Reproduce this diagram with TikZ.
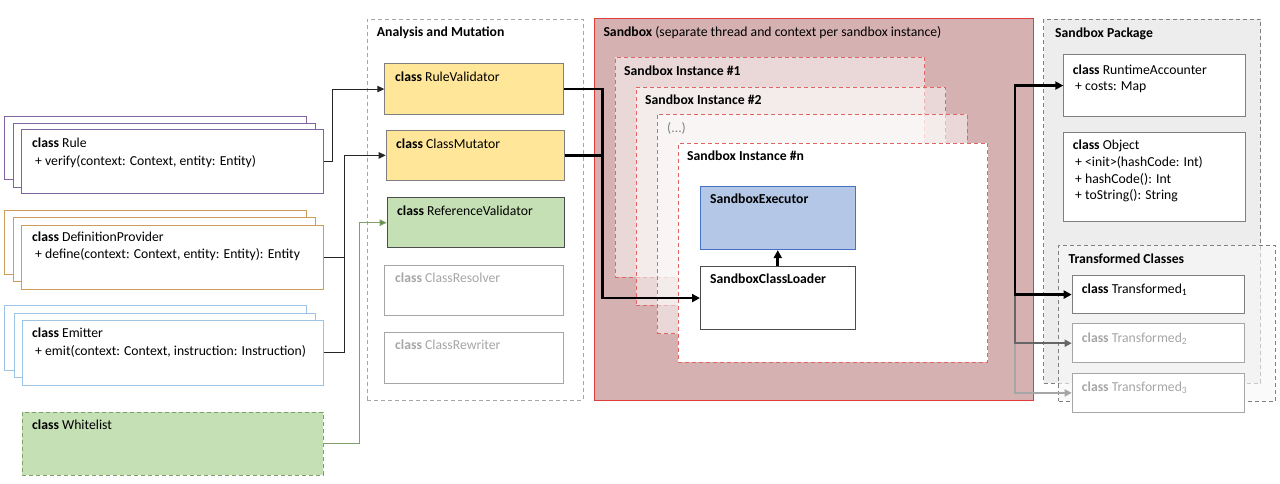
\documentclass[tikz,border=0pt]{standalone}
\usepackage{fontspec}
\setmainfont{Carlito}
\usetikzlibrary{arrows.meta,calc}
\definecolor{cpurple}{HTML}{8064A2}
\definecolor{cgold}{HTML}{CC9E5A}
\definecolor{cblue}{HTML}{9DC3E6}
\definecolor{cgreenfill}{HTML}{C5E0B4}
\definecolor{cgreenline}{HTML}{7FA069}
\definecolor{cgreenarrow}{HTML}{5E8C3E}
\definecolor{cyellow}{HTML}{FFE699}
\definecolor{cgrayline}{HTML}{7F7F7F}
\definecolor{clightgray}{HTML}{A6A6A6}
\definecolor{csandfill}{HTML}{D6B1B1}
\definecolor{csandline}{HTML}{E03C3C}
\definecolor{cinstline}{HTML}{E06666}
\definecolor{cexecfill}{HTML}{B4C7E7}
\definecolor{cexecline}{HTML}{4472C4}
\definecolor{cpkgfill}{HTML}{EDEDED}
\definecolor{ctcfill}{HTML}{F7F7F7}
\definecolor{cdark}{HTML}{262626}
\begin{document}
\begin{tikzpicture}[x=1pt,y=-1pt,
  font=\fontsize{13.7}{17}\selectfont,
  box/.style={draw, fill=white, inner sep=0pt, anchor=north west, line width=0.8pt},
  txt/.style={anchor=base west, inner sep=0pt},
  dashbox/.style={box, dash pattern=on 4pt off 3pt},
  thin conn/.style={draw=cdark, line width=0.9pt},
  thin arrow/.style={thin conn, -{Triangle[length=7pt,width=6.5pt]}},
  thick conn/.style={draw=black, line width=2.8pt},
  thick arrow/.style={thick conn, -{Triangle[length=8pt,width=8pt]}},
]
\useasboundingbox (0,0) rectangle (1280,483);

% ---------- left stacks ----------
\node[box, draw=cpurple, minimum width=302pt, minimum height=63pt] (ruleb) at (4.3,116) {};
\node[box, draw=cpurple, minimum width=302pt, minimum height=64pt] (rulem) at (13,122.7) {};
\node[box, draw=cpurple, minimum width=302pt, minimum height=64pt] (rule) at (21,129) {};
\node[txt] (rulet1) at (32,147) {\textbf{class} Rule};
\node[txt] (rulet2) at (35,165) {+ verify(context: Context, entity: Entity)};

\node[box, draw=cgold, minimum width=302pt, minimum height=64pt] (defb) at (4.3,210) {};
\node[box, draw=cgold, minimum width=302pt, minimum height=64pt] (defm) at (13,217) {};
\node[box, draw=cgold, minimum width=302pt, minimum height=64pt] (def) at (21,224.7) {};
\node[txt] (deft1) at (32,241) {\textbf{class} DefinitionProvider};
\node[txt] (deft2) at (35,258.5) {+ define(context: Context, entity: Entity): Entity};

\node[box, draw=cblue, minimum width=302pt, minimum height=65pt] (emitb) at (4.3,305) {};
\node[box, draw=cblue, minimum width=301pt, minimum height=64pt] (emitm) at (14,313) {};
\node[box, draw=cblue, minimum width=301pt, minimum height=64.7pt] (emit) at (22,320) {};
\node[txt] (emitt1) at (32,337.5) {\textbf{class} Emitter};
\node[txt] (emitt2) at (35,355) {+ emit(context: Context, instruction: Instruction)};

\node[dashbox, draw=cgreenline, fill=cgreenfill, minimum width=301pt, minimum height=63pt] (wl) at (22,412) {};
\node[txt] (wlt) at (32,429.5) {\textbf{class} Whitelist};

% ---------- analysis and mutation ----------
\node[dashbox, draw=clightgray, minimum width=216pt, minimum height=381.3pt] (ana) at (366.7,18.7) {};
\node[txt] (anat) at (376.7,36) {\textbf{Analysis and Mutation}};
\node[box, draw=cgrayline, fill=cyellow, minimum width=179pt, minimum height=50.7pt] (rv) at (384.3,63.3) {};
\node[txt] (rvt) at (395,81) {\textbf{class} RuleValidator};
\node[box, draw=cgrayline, fill=cyellow, minimum width=178.6pt, minimum height=50pt] (cm) at (385.7,130) {};
\node[txt] (cmt) at (396,148) {\textbf{class} ClassMutator};
\node[box, draw=black!70, fill=cgreenfill, minimum width=177.6pt, minimum height=50pt] (refv) at (386.7,197.3) {};
\node[txt] (refvt) at (397,215) {\textbf{class} ReferenceValidator};
\node[box, draw=clightgray, minimum width=179pt, minimum height=50.3pt] (cres) at (384.3,265) {};
\node[txt, text=clightgray] (crest) at (395,282.5) {\textbf{class} ClassResolver};
\node[box, draw=clightgray, minimum width=179pt, minimum height=50.7pt] (crew) at (384.3,332) {};
\node[txt, text=clightgray] (crewt) at (395,349) {\textbf{class} ClassRewriter};

% ---------- sandbox ----------
\node[box, draw=csandline, fill=csandfill, minimum width=439.3pt, minimum height=382pt] (sb) at (594,18) {};
\node[txt] (sbt) at (603.3,36) {\textbf{Sandbox} (separate thread and context per sandbox instance)};
\node[dashbox, draw=cinstline, fill opacity=0.5, minimum width=309.3pt, minimum height=220pt] (i1) at (615,56.7) {};
\node[txt] (i1t) at (624,75) {\textbf{Sandbox Instance \#1}};
\node[dashbox, draw=cinstline, fill opacity=0.5, minimum width=309.3pt, minimum height=218.3pt] (i2) at (636,86.7) {};
\node[txt] (i2t) at (645,104) {\textbf{Sandbox Instance \#2}};
\node[dashbox, draw=cinstline, fill opacity=0.5, minimum width=310pt, minimum height=219.3pt] (i3) at (656.7,114) {};
\node[txt, text=cgrayline] (i3t) at (667,132) {(...)};
\node[dashbox, draw=cinstline, minimum width=309.6pt, minimum height=219.3pt] (in) at (677.7,142.7) {};
\node[txt] (int) at (687,160.5) {\textbf{Sandbox Instance \#n}};
\node[box, draw=cexecline, fill=cexecfill, minimum width=154.7pt, minimum height=63.6pt] (exec) at (700,185.7) {};
\node[txt] (exect) at (710,203.5) {\textbf{SandboxExecutor}};
\node[box, draw=black!70, minimum width=154.7pt, minimum height=62.7pt] (loader) at (700,266.3) {};
\node[txt] (loadert) at (710,283.5) {\textbf{SandboxClassLoader}};

% ---------- sandbox package ----------
\node[dashbox, draw=cgrayline, fill=cpkgfill, minimum width=217pt, minimum height=364pt] (pkg) at (1043.3,18.7) {};
\node[txt] (pkgt) at (1055,37) {\textbf{Sandbox Package}};
\node[box, draw=cgrayline, minimum width=181.7pt, minimum height=61.7pt] (ra) at (1063.3,54.3) {};
\node[txt] (rat1) at (1072.7,74) {\textbf{class} RuntimeAccounter};
\node[txt] (rat2) at (1075,90.5) {+ costs: Map};
\node[box, draw=cgrayline, minimum width=181.7pt, minimum height=89pt] (obj) at (1063.3,131.7) {};
\node[txt] (objt1) at (1072.7,149.5) {\textbf{class} Object};
\node[txt] (objt2) at (1075,166) {+ <init>(hashCode: Int)};
\node[txt] (objt3) at (1075,183) {+ hashCode(): Int};
\node[txt] (objt4) at (1075,199.5) {+ toString(): String};

\node[dashbox, draw=cgrayline, fill=ctcfill, fill opacity=0.6, minimum width=216.7pt, minimum height=155.7pt] (tc) at (1058.3,245) {};
\node[txt] (tct) at (1068.3,263) {\textbf{Transformed Classes}};
\node[box, draw=cgrayline, minimum width=172.3pt, minimum height=38.3pt] (t1) at (1071.7,275) {};
\node[txt] (t1t) at (1081.7,293.8) {\textbf{class} Transformed\textsubscript{1}};
\node[box, draw=clightgray, minimum width=172.3pt, minimum height=39pt] (t2) at (1071.7,323.3) {};
\node[txt, text=clightgray] (t2t) at (1081.7,342) {\textbf{class} Transformed\textsubscript{2}};
\node[box, draw=clightgray, minimum width=172.3pt, minimum height=38.4pt] (t3) at (1071.7,373.3) {};
\node[txt, text=clightgray] (t3t) at (1081.7,391) {\textbf{class} Transformed\textsubscript{3}};

% ---------- connectors ----------
\draw[thin arrow] (rule.east) -- ++(8.7,0) |- (rv.west);
\coordinate (jn) at ($(def.east)+(21,0)$);
\draw[thin conn] (emit.east) -| (jn);
\draw[thin arrow] (def.east) -- (jn) |- (cm.west);
\draw[line width=1pt, draw=cgreenline, -{Triangle[length=7pt,width=6.5pt,fill=cgreenarrow]}] (wl.east) -- ++(35.3,0) |- (refv.west);

\coordinate (sj) at ($(loader.west)+(-97.3,0)$);
\draw[thick conn] (cm.east) -- (cm.east -| sj);
\draw[thick arrow] (rv.east) -| (sj) -- (loader.west);
\draw[thick arrow] (loader.north) -- (exec.south);

\coordinate (rtop) at (1015,0 |- ra.west);
\coordinate (rmid) at (rtop |- t1.west);
\coordinate (rlow) at (rtop |- t2.west);
\draw[draw=black!35!white, line width=2.4pt, -{Triangle[length=7pt,width=7pt]}] (rlow) |- (t3.west);
\draw[draw=black!60, line width=2.4pt, -{Triangle[length=7pt,width=7pt]}] (rmid) |- (t2.west);
\draw[thick conn, {Triangle[length=8pt,width=8pt]}-{Triangle[length=8pt,width=8pt]}] (ra.west) -- (rtop) |- (t1.west);
\end{tikzpicture}
\end{document}
